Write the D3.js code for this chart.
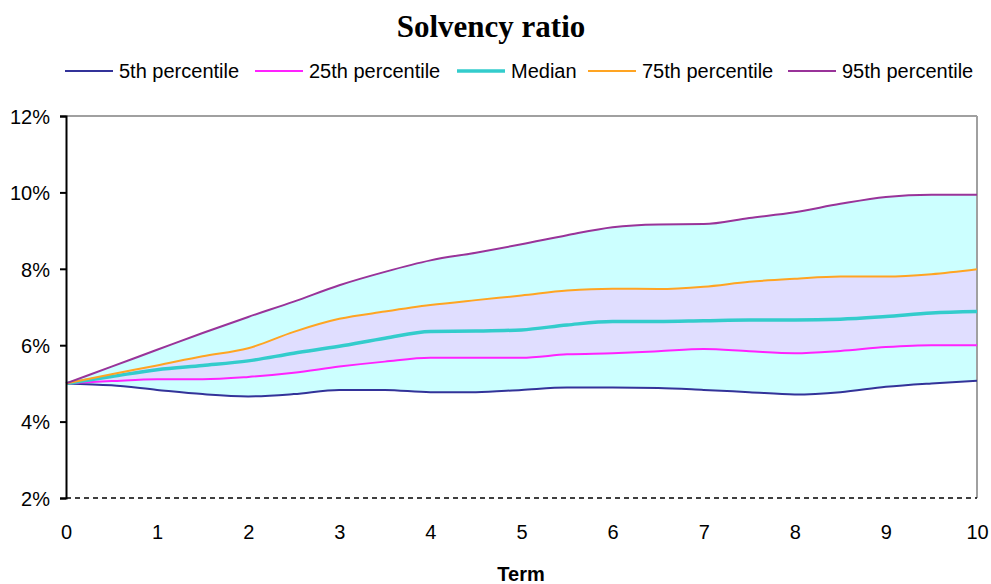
<!DOCTYPE html>
<html>
<head>
<meta charset="utf-8">
<script src="https://cdn.jsdelivr.net/npm/d3@7"></script>
<style>
  body { margin: 0; background: #fff; }
  svg { display: block; }
  .axis text { font-family: "Liberation Sans", Arial, sans-serif; font-size: 20px; fill: #000; }
  .legend text { font-family: "Liberation Sans", Arial, sans-serif; font-size: 20px; fill: #000; }
</style>
</head>
<body>
<div id="chart"></div>
<script>
// term in years, percentiles of the solvency ratio in %
var terms = [0, 0.5, 1, 1.5, 2, 2.5, 3, 3.5, 4, 4.5, 5, 5.5, 6, 6.5, 7, 7.5, 8, 8.5, 9, 9.5, 10];
var p5  = [5.0, 4.95, 4.83, 4.72, 4.66, 4.72, 4.83, 4.83, 4.77, 4.77, 4.83, 4.89, 4.89, 4.88, 4.83, 4.77, 4.71, 4.77, 4.91, 5.0, 5.07];
var p25 = [5.0, 5.06, 5.11, 5.11, 5.17, 5.28, 5.44, 5.57, 5.67, 5.67, 5.67, 5.76, 5.79, 5.84, 5.90, 5.84, 5.79, 5.85, 5.95, 6.0, 6.0];
var p50 = [5.0, 5.18, 5.36, 5.47, 5.59, 5.79, 5.97, 6.18, 6.36, 6.37, 6.40, 6.53, 6.62, 6.62, 6.64, 6.66, 6.66, 6.68, 6.75, 6.84, 6.88];
var p75 = [5.0, 5.24, 5.47, 5.71, 5.92, 6.35, 6.69, 6.88, 7.05, 7.18, 7.30, 7.43, 7.48, 7.47, 7.53, 7.66, 7.74, 7.80, 7.80, 7.86, 7.99];
var p95 = [5.0, 5.44, 5.88, 6.32, 6.74, 7.14, 7.57, 7.92, 8.22, 8.42, 8.64, 8.88, 9.09, 9.16, 9.17, 9.33, 9.48, 9.70, 9.88, 9.94, 9.94];

var seriesNames = ["5th percentile", "25th percentile", "Median", "75th percentile", "95th percentile"];
var seriesColors = ["#333399", "#ff22ff", "#33cccc", "#ffa422", "#993399"];
var seriesWidths = [2, 2, 3.5, 2, 2];
var yTicks = [2, 4, 6, 8, 10, 12];
var xTicks = [0, 1, 2, 3, 4, 5, 6, 7, 8, 9, 10];

var width = 991, height = 584;
var margin = {left: 66, right: 14, top: 116, bottom: 86};

var svg = d3.select("#chart").append("svg")
    .attr("width", width)
    .attr("height", height);

var x = d3.scaleLinear()
    .domain([0, 10])
    .range([margin.left, width - margin.right]);

var y = d3.scaleLinear()
    .domain([2, 12])
    .range([height - margin.bottom, margin.top]);

// rows built from the arrays
var rows = terms.map(function(t, i) {
    return {t: t, v: [p5[i], p25[i], p50[i], p75[i], p95[i]]};
});

// title
svg.append("text")
    .attr("x", 491)
    .attr("y", 37)
    .attr("text-anchor", "middle")
    .style("font-family", "'Liberation Serif', 'Times New Roman', serif")
    .style("font-weight", "bold")
    .style("font-size", "31px")
    .text("Solvency ratio");

// bands
function band(lo, hi) {
    return d3.area()
        .curve(d3.curveMonotoneX)
        .x(function(d) { return x(d.t); })
        .y0(function(d) { return y(d.v[lo]); })
        .y1(function(d) { return y(d.v[hi]); });
}

svg.append("path").datum(rows)
    .attr("fill", "#ccffff")
    .attr("d", band(0, 4));

svg.append("path").datum(rows)
    .attr("fill", "#e0deff")
    .attr("d", band(1, 3));

// frame: grey top / right, dashed bottom
svg.append("line")
    .attr("x1", x(0)).attr("x2", x(10))
    .attr("y1", y(12)).attr("y2", y(12))
    .attr("stroke", "#a0a0a0").attr("stroke-width", 2);
svg.append("line")
    .attr("x1", x(10)).attr("x2", x(10))
    .attr("y1", y(12)).attr("y2", y(2))
    .attr("stroke", "#a0a0a0").attr("stroke-width", 2);
svg.append("line")
    .attr("x1", x(0)).attr("x2", x(10))
    .attr("y1", y(2)).attr("y2", y(2))
    .attr("stroke", "#000").attr("stroke-width", 1.5)
    .attr("stroke-dasharray", "5,4");

// lines
seriesNames.forEach(function(name, k) {
    var line = d3.line()
        .curve(d3.curveMonotoneX)
        .x(function(d) { return x(d.t); })
        .y(function(d) { return y(d.v[k]); });
    svg.append("path").datum(rows)
        .attr("fill", "none")
        .attr("stroke", seriesColors[k])
        .attr("stroke-width", seriesWidths[k])
        .attr("d", line);
});

// y axis
var yAxis = svg.append("g")
    .attr("class", "axis")
    .attr("transform", "translate(" + x(0) + ",0)")
    .call(d3.axisLeft(y).tickValues(yTicks).tickSize(6).tickPadding(10)
        .tickFormat(function(d) { return d + "%"; }));
yAxis.select(".domain").attr("stroke", "#000").attr("stroke-width", 2);
yAxis.selectAll(".tick line").attr("stroke", "#000").attr("stroke-width", 2);
yAxis.selectAll("text").attr("dy", "0.36em");

// x axis (labels only)
var xAxis = svg.append("g")
    .attr("class", "axis")
    .attr("transform", "translate(0," + y(2) + ")")
    .call(d3.axisBottom(x).tickValues(xTicks).tickSize(0).tickPadding(27));
xAxis.select(".domain").remove();

svg.append("text")
    .attr("x", 521)
    .attr("y", 581)
    .attr("text-anchor", "middle")
    .style("font-family", "'Liberation Sans', Arial, sans-serif")
    .style("font-weight", "bold")
    .style("font-size", "20px")
    .text("Term");

// legend
var legendX = [65, 255, 457, 588, 788];
var legend = svg.append("g").attr("class", "legend");
seriesNames.forEach(function(name, k) {
    var g = legend.append("g").attr("transform", "translate(" + legendX[k] + ",71)");
    g.append("line")
        .attr("x1", 0).attr("x2", 48)
        .attr("y1", 0).attr("y2", 0)
        .attr("stroke", seriesColors[k])
        .attr("stroke-width", seriesWidths[k]);
    g.append("text")
        .attr("x", 54)
        .attr("y", 7)
        .text(name);
});
</script>
</body>
</html>
